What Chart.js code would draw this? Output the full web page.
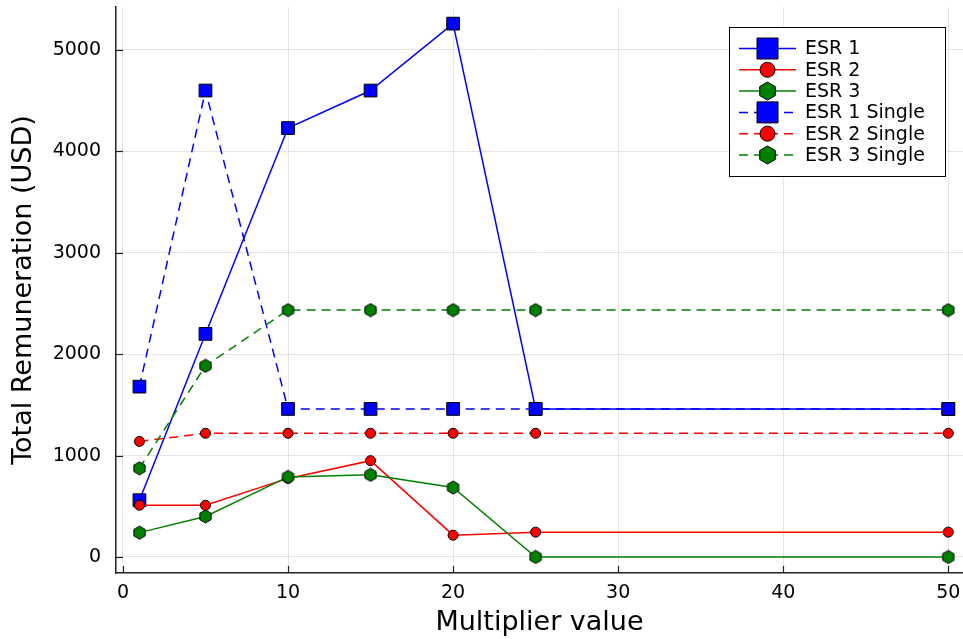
<!DOCTYPE html>
<html>
<head>
<meta charset="utf-8">
<script src="https://cdn.jsdelivr.net/npm/chart.js@4.4.1/dist/chart.umd.min.js"></script>
<style>
  html, body { margin: 0; padding: 0; background: #fff; }
</style>
</head>
<body>
<canvas id="remChart" width="963" height="639"></canvas>
<script>
// valores
const multipliers = [1, 5, 10, 15, 20, 25, 50];
const esr1 = [560, 2200, 4230, 4600, 5260, 1460, 1460];
const esr2 = [510, 510, 775, 950, 215, 245, 245];
const esr3 = [240, 400, 790, 810, 685, 0, 0];
const esr1Single = [1680, 4600, 1460, 1460, 1460, 1460, 1460];
const esr2Single = [1140, 1220, 1220, 1220, 1220, 1220, 1220];
const esr3Single = [875, 1885, 2435, 2435, 2435, 2435, 2435];
const seriesNames = ['ESR 1', 'ESR 2', 'ESR 3', 'ESR 1 Single', 'ESR 2 Single', 'ESR 3 Single'];
const xTickValues = [0, 10, 20, 30, 40, 50];
const yTickValues = [0, 1000, 2000, 3000, 4000, 5000];

const FONT = "'DejaVu Sans', sans-serif";
const BLUE = '#0000ff', RED = '#ff0000', GREEN = '#008000';
const DASH = [9, 6];

function hexPath(ctx, x, y, r) {
    ctx.beginPath();
    for (let i = 0; i < 6; i++) {
        const a = (-90 + 60 * i) * Math.PI / 180;
        const px = x + r * Math.cos(a), py = y + r * Math.sin(a);
        if (i === 0) ctx.moveTo(px, py); else ctx.lineTo(px, py);
    }
    ctx.closePath();
}

function hexCanvas(r, color) {
    const c = document.createElement('canvas');
    const w = Math.ceil(r * 2 + 2);
    c.width = w; c.height = w;
    const g = c.getContext('2d');
    hexPath(g, w / 2, w / 2, r);
    g.fillStyle = color; g.fill();
    g.strokeStyle = '#000'; g.lineWidth = 1; g.stroke();
    return c;
}

function drawMarker(ctx, shape, color, x, y, s) {
    ctx.save();
    ctx.setLineDash([]);
    ctx.fillStyle = color;
    ctx.strokeStyle = '#000';
    ctx.lineWidth = 1;
    if (shape === 'rect') {
        ctx.beginPath(); ctx.rect(x - s / 2, y - s / 2, s, s);
    } else if (shape === 'circle') {
        ctx.beginPath(); ctx.arc(x, y, s / 2, 0, Math.PI * 2);
    } else {
        hexPath(ctx, x, y, s / 2);
    }
    ctx.fill(); ctx.stroke();
    ctx.restore();
}

const hexImg = hexCanvas(6.5, GREEN);

function serie(i, values, color, shape, dashed) {
    const ds = {
        label: seriesNames[i],
        data: multipliers.map((m, k) => ({ x: m, y: values[k] })),
        borderColor: color,
        backgroundColor: color,
        borderWidth: 1.5,
        borderDash: dashed ? DASH : [],
        pointBorderColor: '#000',
        pointBorderWidth: 1,
        pointHoverRadius: 0,
        order: 6 - i,
        shape: shape
    };
    if (shape === 'rect') { ds.pointStyle = 'rect'; ds.pointRadius = 9; }
    else if (shape === 'circle') { ds.pointStyle = 'circle'; ds.pointRadius = 5; }
    else { ds.pointStyle = hexImg; ds.pointRadius = 7; }
    return ds;
}

// leyenda dentro del area, como en Plots
const legendBox = {
    id: 'legendBox',
    afterDraw(chart) {
        const ctx = chart.ctx, a = chart.chartArea;
        const w = 216, h = 149;
        const x0 = a.right - 18 - w, y0 = a.top + 20;
        ctx.save();
        ctx.fillStyle = '#fff';
        ctx.fillRect(x0, y0, w, h);
        ctx.strokeStyle = '#000'; ctx.lineWidth = 1;
        ctx.strokeRect(x0 + 0.5, y0 + 0.5, w, h);
        const sizes = { rect: 21, circle: 15, hex: 18 };
        chart.data.datasets.forEach((ds, i) => {
            const y = y0 + 21.5 + i * 21.3;
            ctx.beginPath();
            ctx.setLineDash(ds.borderDash);
            ctx.strokeStyle = ds.borderColor; ctx.lineWidth = 1.5;
            ctx.moveTo(x0 + 10, y); ctx.lineTo(x0 + 67, y);
            ctx.stroke();
            drawMarker(ctx, ds.shape, ds.backgroundColor, x0 + 38.5, y, sizes[ds.shape]);
            ctx.fillStyle = '#000';
            ctx.font = '19px ' + FONT;
            ctx.textBaseline = 'middle';
            ctx.textAlign = 'left';
            ctx.fillText(ds.label, x0 + 76, y + 1);
        });
        ctx.restore();
    }
};

// marcas de tick hacia adentro
const innerTicks = {
    id: 'innerTicks',
    afterDatasetsDraw(chart) {
        const ctx = chart.ctx, a = chart.chartArea;
        const xs = chart.scales.x, ys = chart.scales.y;
        ctx.save();
        ctx.strokeStyle = '#222'; ctx.lineWidth = 1.2;
        ys.ticks.forEach(t => {
            const p = Math.round(ys.getPixelForValue(t.value)) + 0.5;
            ctx.beginPath(); ctx.moveTo(a.left, p); ctx.lineTo(a.left + 7, p); ctx.stroke();
        });
        xs.ticks.forEach(t => {
            const p = Math.round(xs.getPixelForValue(t.value)) + 0.5;
            ctx.beginPath(); ctx.moveTo(p, a.bottom); ctx.lineTo(p, a.bottom - 7); ctx.stroke();
        });
        ctx.restore();
    }
};

new Chart(document.getElementById('remChart'), {
    type: 'line',
    data: {
        datasets: [
            serie(0, esr1, BLUE, 'rect', false),
            serie(1, esr2, RED, 'circle', false),
            serie(2, esr3, GREEN, 'hex', false),
            serie(3, esr1Single, BLUE, 'rect', true),
            serie(4, esr2Single, RED, 'circle', true),
            serie(5, esr3Single, GREEN, 'hex', true)
        ]
    },
    options: {
        responsive: false,
        animation: false,
        devicePixelRatio: 1,
        layout: { autoPadding: false, padding: { top: 7, right: 0, left: 0, bottom: 0 } },
        plugins: { legend: { display: false }, tooltip: { enabled: false } },
        scales: {
            x: {
                type: 'linear',
                min: -0.42,
                max: 50.89,
                afterBuildTicks: s => { s.ticks = xTickValues.map(v => ({ value: v })); },
                afterFit: s => { s.height = 66; s.paddingLeft = 0; s.paddingRight = 0; },
                ticks: { padding: 9, color: '#000', font: { family: FONT, size: 19 }, callback: v => String(v) },
                grid: { color: 'rgba(0,0,0,0.1)', drawTicks: false },
                border: { display: true, color: '#222', width: 1.5 },
                title: { display: true, text: 'Multiplier value', color: '#000', padding: { top: 0, bottom: 0 }, font: { family: FONT, size: 27 } }
            },
            y: {
                type: 'linear',
                min: -158,
                max: 5424,
                afterBuildTicks: s => { s.ticks = yTickValues.map(v => ({ value: v })); },
                afterFit: s => { s.width = 116; s.paddingTop = 0; s.paddingBottom = 0; },
                ticks: { padding: 15, color: '#000', font: { family: FONT, size: 19 }, callback: v => String(v) },
                grid: { color: 'rgba(0,0,0,0.1)', drawTicks: false },
                border: { display: true, color: '#222', width: 1.5 },
                title: { display: true, text: 'Total Remuneration (USD)', color: '#000', padding: { top: 8, bottom: 0 }, font: { family: FONT, size: 27 } }
            }
        }
    },
    plugins: [innerTicks, legendBox]
});
</script>
</body>
</html>
